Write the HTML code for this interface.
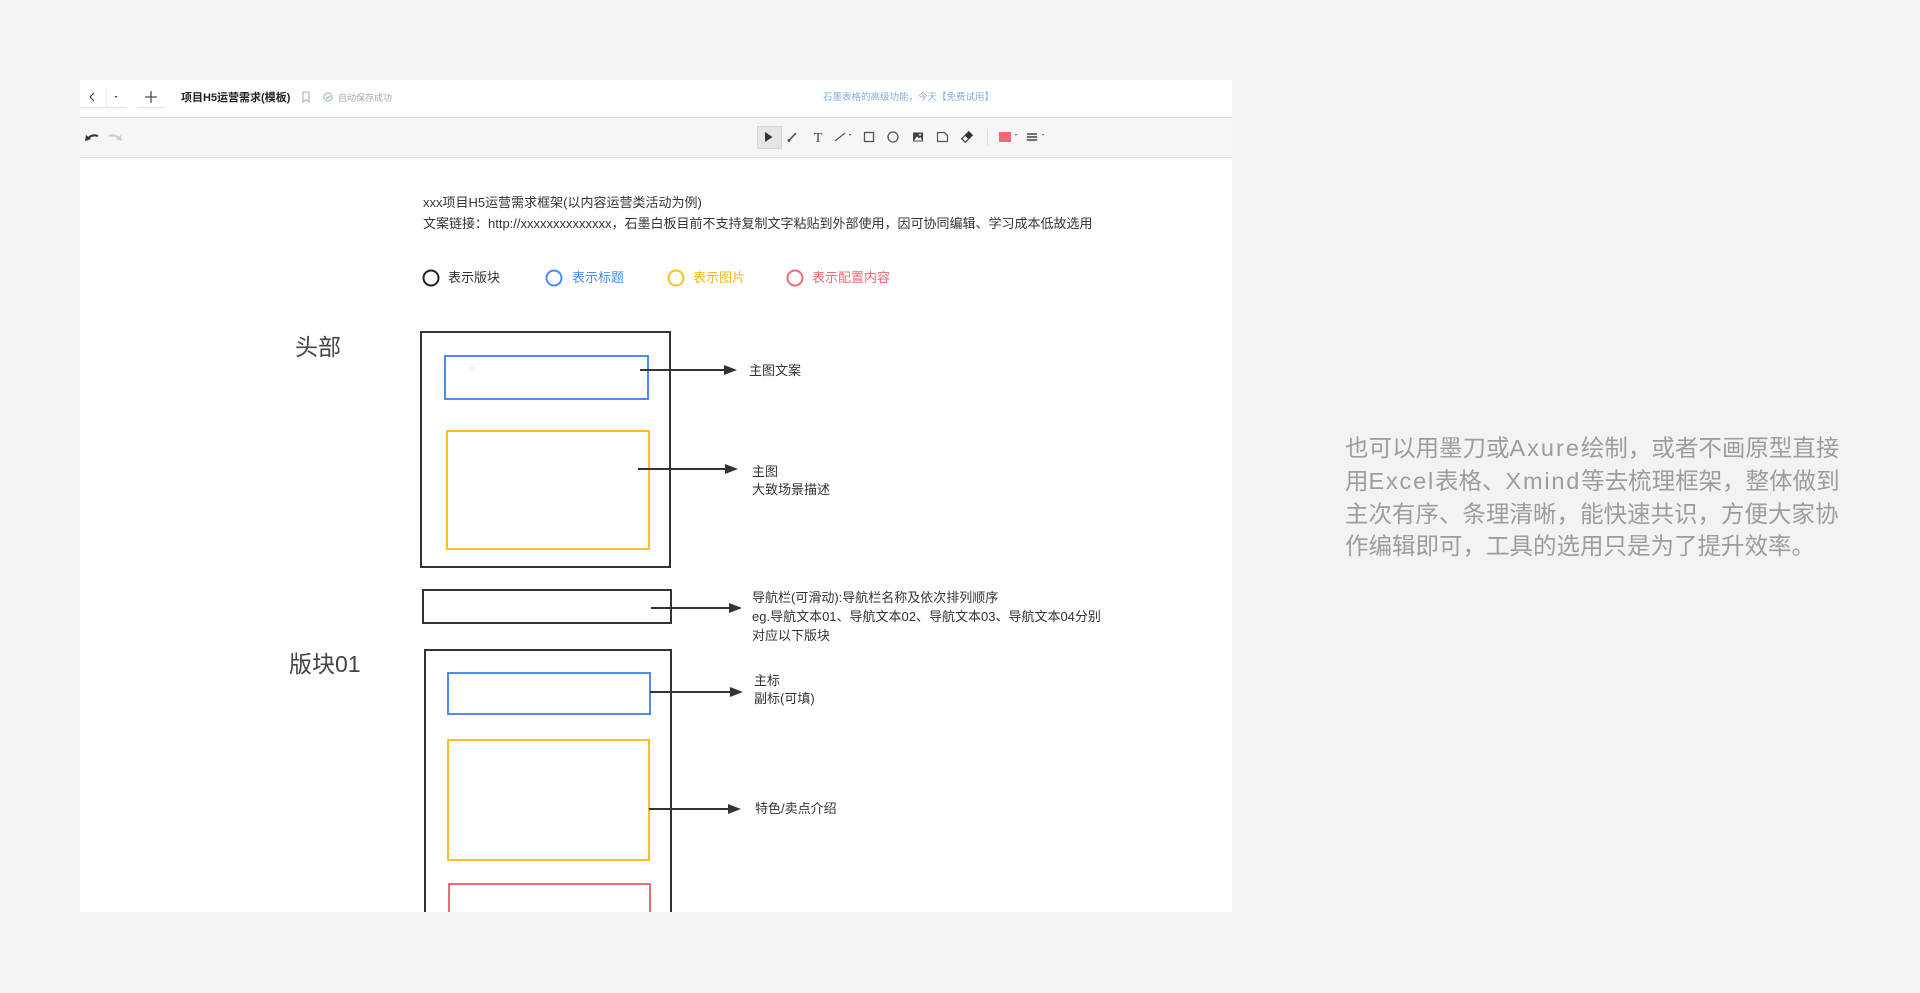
<!DOCTYPE html>
<html><head><meta charset="utf-8">
<style>
html,body{margin:0;padding:0;}
body{width:1920px;height:993px;background:#f2f3f7;position:relative;overflow:hidden;font-family:"Liberation Sans","Noto Sans CJK SC",sans-serif;}
#panel{position:absolute;left:80px;top:80px;width:1152px;height:832px;background:#fff;overflow:hidden;}
#hdr{position:absolute;left:0;top:0;width:1152px;height:37px;background:#fff;border-bottom:1px solid #dcdcdc;box-shadow:0 1px 2px rgba(0,0,0,0.06);}
#tb{position:absolute;left:0;top:38px;width:1152px;height:39px;background:#f6f6f6;border-bottom:1px solid #e2e2e2;}
.t{position:absolute;white-space:nowrap;}
.c13{font-size:13px;line-height:18px;color:#333;}
#svg{position:absolute;left:-80px;top:-80px;}
.rt{position:absolute;left:1345px;font-size:23.5px;line-height:32px;color:#9d9d9d;white-space:nowrap;}
.l1{letter-spacing:2px;}
.l2{letter-spacing:1.8px;}
</style></head>
<body>
<div id="panel">
  <div id="hdr"></div>
  <div id="tb"></div>
  <svg id="svg" width="1920" height="993" viewBox="0 0 1920 993" xmlns="http://www.w3.org/2000/svg">
    <!-- header buttons -->
    <rect x="80" y="86" width="26" height="21" fill="#fff"/>
    <rect x="108" y="86" width="18" height="21" fill="#fff"/>
    <line x1="106.5" y1="87" x2="106.5" y2="107" stroke="#eeeeee"/>
    <line x1="80" y1="107.5" x2="126" y2="107.5" stroke="#e2e2e2"/>
    <rect x="138" y="86" width="27" height="21" fill="#fff"/>
    <line x1="138" y1="107.5" x2="165" y2="107.5" stroke="#e2e2e2"/>
    <polyline points="94,93 90,97 94,101" fill="none" stroke="#444" stroke-width="1.2"/>
    <polygon points="114.5,96 117.5,96 116,98" fill="#444"/>
    <line x1="151" y1="91" x2="151" y2="103" stroke="#444" stroke-width="1.2"/>
    <line x1="145" y1="97" x2="157" y2="97" stroke="#444" stroke-width="1.2"/>
    <!-- bookmark -->
    <path d="M303 92 H309 V102 L306 99.5 L303 102 Z" fill="none" stroke="#aaa" stroke-width="1"/>
    <!-- check circle -->
    <circle cx="328" cy="97" r="4" fill="none" stroke="#8fb8a0" stroke-width="1"/>
    <polyline points="326,97 327.5,98.5 330,95.5" fill="none" stroke="#8fb8a0" stroke-width="1"/>

    <!-- toolbar -->
    <path d="M87 140 Q91 133.5 98 136" fill="none" stroke="#333" stroke-width="2"/>
    <polygon points="85,141 86,135 91,139" fill="#333"/>
    <path d="M120 140 Q116 133.5 109 136" fill="none" stroke="#cfcfcf" stroke-width="2"/>
    <polygon points="122,141 121,135 116,139" fill="#cfcfcf"/>

    <rect x="757.5" y="126.5" width="24" height="22" fill="#e6e6e6" stroke="#d6d6d6"/>
    <polygon points="765,132 772.5,137 765,142" fill="#333"/>
    <line x1="788.5" y1="141" x2="796" y2="133" stroke="#555" stroke-width="1.6"/>
    <circle cx="789" cy="140.5" r="1.5" fill="#555"/>
    <text x="818" y="142" font-family="Liberation Serif, serif" font-size="14" text-anchor="middle" fill="#444">T</text>
    <line x1="835" y1="141" x2="845" y2="133" stroke="#555" stroke-width="1.2"/>
    <polygon points="848.5,134 851.5,134 850,136" fill="#666"/>
    <rect x="864.5" y="132.5" width="9" height="9" fill="none" stroke="#555" stroke-width="1.3"/>
    <circle cx="893" cy="137" r="5" fill="none" stroke="#555" stroke-width="1.3"/>
    <rect x="913" y="132.5" width="10" height="9" fill="#444"/>
    <polygon points="914,140.5 917,136.5 919,138.5 920.5,137 922,140.5" fill="#fff"/>
    <circle cx="920" cy="134.8" r="1" fill="#fff"/>
    <path d="M937.5 132.5 H944.5 L947.5 135.5 V141.5 H937.5 Z" fill="none" stroke="#555" stroke-width="1.2"/>
    <g transform="rotate(-45 967 137)"><rect x="962" y="134.5" width="10" height="5" fill="#fff" stroke="#333" stroke-width="1.1"/><rect x="966.5" y="134.5" width="5.5" height="5" fill="#333"/></g>
    <line x1="987.5" y1="129" x2="987.5" y2="146" stroke="#e0e0e0"/>
    <rect x="999" y="132" width="12" height="10" fill="#ee6b76"/>
    <polygon points="1014.5,134 1017.5,134 1016,136" fill="#888"/>
    <line x1="1027" y1="134" x2="1037" y2="134" stroke="#444" stroke-width="1.5"/>
    <line x1="1027" y1="137" x2="1037" y2="137" stroke="#444" stroke-width="1.5"/>
    <line x1="1027" y1="140" x2="1037" y2="140" stroke="#444" stroke-width="1.5"/>
    <polygon points="1041.5,134 1044.5,134 1043,136" fill="#888"/>

    <!-- legend circles -->
    <circle cx="431" cy="278" r="7.5" fill="none" stroke="#222" stroke-width="2"/>
    <circle cx="554" cy="278" r="7.5" fill="none" stroke="#4c8cf5" stroke-width="2"/>
    <circle cx="676" cy="278" r="7.5" fill="none" stroke="#fbbf24" stroke-width="2"/>
    <circle cx="795" cy="278" r="7.5" fill="none" stroke="#ee6b76" stroke-width="2"/>

    <!-- head block -->
    <rect x="421" y="332" width="249" height="235" fill="none" stroke="#333" stroke-width="2"/>
    <rect x="445" y="356" width="203" height="43" fill="none" stroke="#4c8cf5" stroke-width="2"/>
    <rect x="471.5" y="367.5" width="1" height="1" fill="#888"/>
    <rect x="447" y="431" width="202" height="118" fill="none" stroke="#fbbf24" stroke-width="2"/>

    <!-- nav -->
    <rect x="423" y="590" width="248" height="33" fill="none" stroke="#333" stroke-width="2"/>

    <!-- block01 -->
    <rect x="425" y="650" width="246" height="300" fill="none" stroke="#333" stroke-width="2"/>
    <rect x="448" y="673" width="202" height="41" fill="none" stroke="#4c8cf5" stroke-width="2"/>
    <rect x="448" y="740" width="201" height="120" fill="none" stroke="#fbbf24" stroke-width="2"/>
    <rect x="449" y="884" width="201" height="100" fill="none" stroke="#ee6b76" stroke-width="2"/>

    <!-- arrows -->
    <g stroke="#333" stroke-width="2">
      <line x1="640" y1="370" x2="726" y2="370"/>
      <line x1="638" y1="469" x2="727" y2="469"/>
      <line x1="651" y1="608" x2="731" y2="608"/>
      <line x1="650" y1="692" x2="732" y2="692"/>
      <line x1="649" y1="809" x2="730" y2="809"/>
    </g>
    <g fill="#333">
      <polygon points="724,365 737,370 724,375"/>
      <polygon points="725,464 738,469 725,474"/>
      <polygon points="729,603 742,608 729,613"/>
      <polygon points="730,687 743,692 730,697"/>
      <polygon points="728,804 741,809 728,814"/>
    </g>
  </svg>
</div>

<!-- header text -->
<div class="t" style="left:181px;top:90px;font-size:11px;line-height:16px;font-weight:bold;color:#1f1f1f;">项目H5运营需求(模板)</div>
<div class="t" style="left:338px;top:91px;font-size:9px;line-height:14px;color:#aaa;">自动保存成功</div>
<div class="t" style="left:823px;top:91px;font-size:9.5px;line-height:14px;color:#86ace0;">石墨表格的高级功能，今天【免费试用】</div>

<!-- canvas text -->
<div class="t c13" style="left:423px;top:194px;">xxx项目H5运营需求框架(以内容运营类活动为例)</div>
<div class="t c13" style="left:423px;top:215px;">文案链接：http://xxxxxxxxxxxxxx，石墨白板目前不支持复制文字粘贴到外部使用，因可协同编辑、学习成本低故选用</div>

<div class="t c13" style="left:448px;top:269px;color:#333;">表示版块</div>
<div class="t c13" style="left:572px;top:269px;color:#4c8cf5;">表示标题</div>
<div class="t c13" style="left:693px;top:269px;color:#f5b921;">表示图片</div>
<div class="t c13" style="left:812px;top:269px;color:#ee6b76;">表示配置内容</div>

<div class="t" style="left:295px;top:332px;font-size:23px;line-height:30px;color:#444;">头部</div>
<div class="t" style="left:289px;top:649px;font-size:23px;line-height:30px;color:#444;">版块01</div>

<div class="t c13" style="left:749px;top:362px;">主图文案</div>
<div class="t c13" style="left:752px;top:463px;">主图</div>
<div class="t c13" style="left:752px;top:481px;">大致场景描述</div>

<div class="t c13" style="left:752px;top:589px;">导航栏(可滑动):导航栏名称及依次排列顺序</div>
<div class="t c13" style="left:752px;top:608px;">eg.导航文本01、导航文本02、导航文本03、导航文本04分别</div>
<div class="t c13" style="left:752px;top:627px;">对应以下版块</div>

<div class="t c13" style="left:754px;top:672px;">主标</div>
<div class="t c13" style="left:754px;top:690px;">副标(可填)</div>
<div class="t c13" style="left:755px;top:800px;">特色/卖点介绍</div>

<!-- right text -->
<div class="rt" style="top:432px;">也可以用墨刀或<span class="l1">Axure</span>绘制，或者不画原型直接</div>
<div class="rt" style="top:465px;">用<span class="l2">Excel</span>表格、<span class="l2">Xmind</span>等去梳理框架，整体做到</div>
<div class="rt" style="top:498px;">主次有序、条理清晰，能快速共识，方便大家协</div>
<div class="rt" style="top:530px;">作编辑即可，工具的选用只是为了提升效率。</div>
</body></html>
